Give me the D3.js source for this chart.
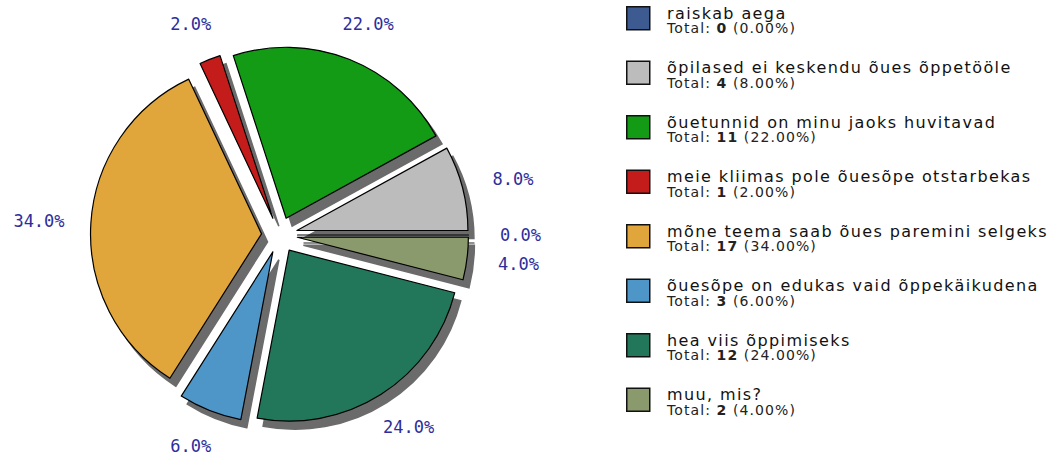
<!DOCTYPE html>
<html lang="et">
<head>
    <meta charset="UTF-8">
    <title>Õuesõpe</title>
    <script src="https://cdn.jsdelivr.net/npm/d3@7"></script>
    <style>
        body { margin: 0; background: #fff; }
        .pct { font-family: "DejaVu Sans Mono", monospace; font-size: 17px; fill: #2d2d9b; }
        .name { font-family: "DejaVu Sans", sans-serif; font-size: 16px; letter-spacing: 1.4px; fill: #111; }
        .total { font-family: "DejaVu Sans", sans-serif; font-size: 14px; letter-spacing: 1.1px; fill: #222; }
    </style>
</head>
<body>
    <svg width="1058" height="458"></svg>
    <script>
        // survey answers, same order as the legend
        const categories = [
            "raiskab aega",
            "õpilased ei keskendu õues õppetööle",
            "õuetunnid on minu jaoks huvitavad",
            "meie kliimas pole õuesõpe otstarbekas",
            "mõne teema saab õues paremini selgeks",
            "õuesõpe on edukas vaid õppekäikudena",
            "hea viis õppimiseks",
            "muu, mis?"
        ];
        const counts = [0, 4, 11, 1, 17, 3, 12, 2];
        const colors = ["#3d5a91", "#bcbcbc", "#139b16", "#c41b1b", "#e0a53b", "#4e95c8", "#22775a", "#8a9a6c"];

        const width = 1058;
        const height = 458;
        const cx = 279.5, cy = 235;
        const radius = 171;
        const explode = 18; // distance each slice is pulled out
        const shadowDx = 6, shadowDy = 8;

        const svg = d3.select("svg");
        const total = d3.sum(counts);
        const data = categories.map((c, i) => ({ name: c, count: counts[i], color: colors[i] }));

        // counter-clockwise from 3 o'clock
        const pie = d3.pie()
            .sort(null)
            .value(d => d.count)
            .startAngle(Math.PI / 2)
            .endAngle(Math.PI / 2 - 2 * Math.PI);
        const arcs = pie(data);
        const arc = d3.arc().innerRadius(0).outerRadius(radius);

        const mid = d => (d.startAngle + d.endAngle) / 2;
        const offX = d => explode * Math.sin(mid(d));
        const offY = d => -explode * Math.cos(mid(d));

        const g = svg.append("g").attr("transform", `translate(${cx},${cy})`);

        // shadows first
        g.selectAll("path.shadow")
            .data(arcs)
            .enter()
            .append("path")
            .attr("class", "shadow")
            .attr("d", arc)
            .attr("transform", d => `translate(${offX(d) + shadowDx},${offY(d) + shadowDy})`)
            .attr("fill", "#6b6b6b")
            .attr("stroke", "#6b6b6b")
            .attr("stroke-width", 1.5);

        g.selectAll("path.slice")
            .data(arcs)
            .enter()
            .append("path")
            .attr("class", "slice")
            .attr("d", arc)
            .attr("transform", d => `translate(${offX(d)},${offY(d)})`)
            .attr("fill", d => d.data.color)
            .attr("stroke", "#000")
            .attr("stroke-width", 1.2)
            .attr("stroke-linejoin", "round");

        // percent labels around the pie
        g.selectAll("text.pct")
            .data(arcs)
            .enter()
            .append("text")
            .attr("class", "pct")
            .attr("x", d => 241 * Math.sin(mid(d)))
            .attr("y", d => -227 * Math.cos(mid(d)))
            .attr("text-anchor", "middle")
            .attr("dy", "0.36em")
            .text(d => (d.data.count / total * 100).toFixed(1) + "%");

        // legend
        const legend = svg.append("g").attr("transform", "translate(626,6)");
        const rows = legend.selectAll("g.row")
            .data(data)
            .enter()
            .append("g")
            .attr("class", "row")
            .attr("transform", (d, i) => `translate(0,${i * 54.5})`);

        rows.append("rect")
            .attr("x", 0.75).attr("y", 0.75)
            .attr("width", 23).attr("height", 23)
            .attr("fill", d => d.color)
            .attr("stroke", "#111")
            .attr("stroke-width", 1.5);

        rows.append("text")
            .attr("class", "name")
            .attr("x", 41)
            .attr("y", 12.5)
            .text(d => d.name);

        const tot = rows.append("text")
            .attr("class", "total")
            .attr("x", 41)
            .attr("y", 27);
        tot.append("tspan").text("Total: ");
        tot.append("tspan").attr("font-weight", "bold").text(d => d.count);
        tot.append("tspan").text(d => " (" + (d.count / total * 100).toFixed(2) + "%)");
    </script>
</body>
</html>
